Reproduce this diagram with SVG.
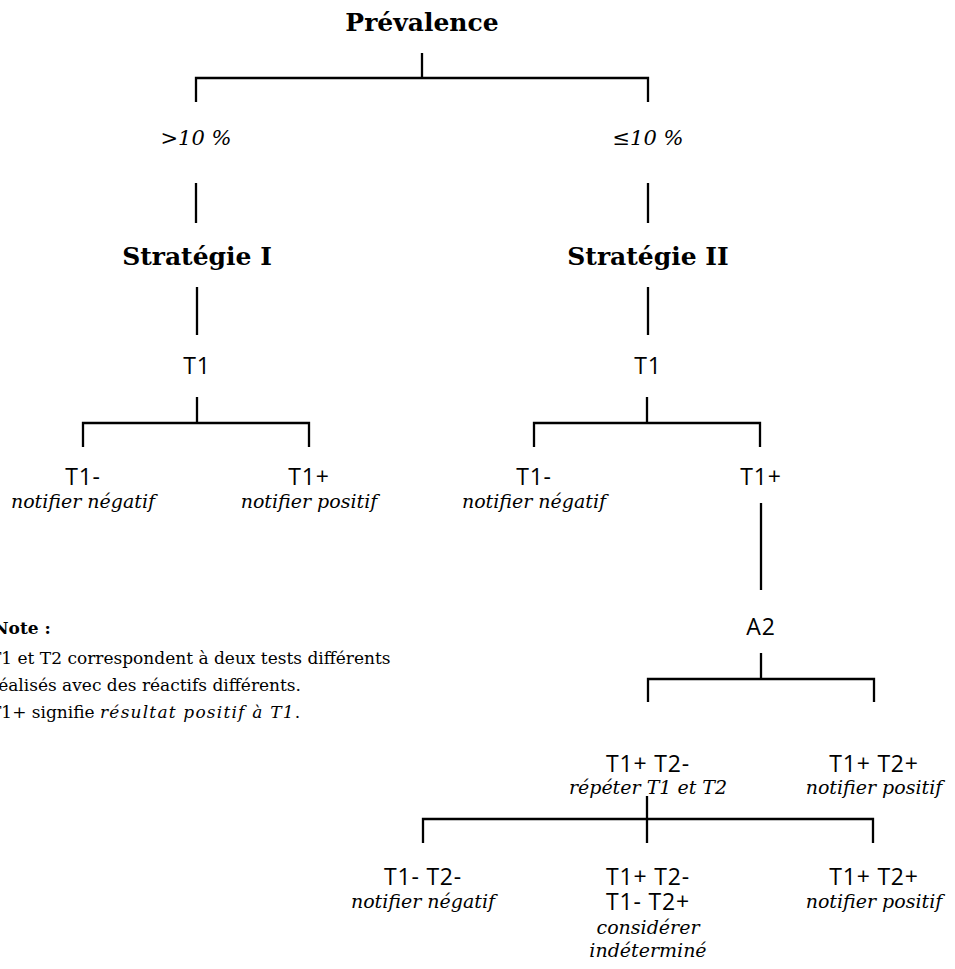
<svg xmlns="http://www.w3.org/2000/svg" width="955" height="969" viewBox="0 0 955 969">
<style>
.c{fill:none;stroke:#000;stroke-width:2.3;stroke-linecap:butt}
.h{font-family:"DejaVu Serif","Liberation Serif",serif;font-weight:bold;font-size:25px;text-anchor:middle;fill:#000}
.s{font-family:"Open Sans","Liberation Sans",sans-serif;font-size:23px;letter-spacing:0.8px;text-anchor:middle;fill:#000}
.i{font-family:"DejaVu Serif","Liberation Serif",serif;font-style:italic;font-size:19px;text-anchor:middle;fill:#000}
.p{font-family:"DejaVu Serif","Liberation Serif",serif;font-style:italic;font-size:21px;text-anchor:middle;fill:#000}
.n{font-family:"DejaVu Serif","Liberation Serif",serif;font-size:17px;fill:#000}
.nb{font-family:"DejaVu Serif","Liberation Serif",serif;font-size:17px;font-weight:bold;fill:#000}
</style>
<rect width="955" height="969" fill="#fff"/>
<g id="connectors">
<path class="c" d="M422,53V78M196,102V78H648V102"/>
<path class="c" d="M196,183V223M648,183V223"/>
<path class="c" d="M197,287V335M648,287V335"/>
<path class="c" d="M197,397V423M83,447V423H309V447"/>
<path class="c" d="M647,397V423M534,447V423H760V447"/>
<path class="c" d="M761,503V590"/>
<path class="c" d="M761,653V679M648,702V679H874V702"/>
<path class="c" d="M647,796V843M423,843V819H873V843"/>
</g>
<g id="n-prevalence"><text class="h" x="422" y="31">Prévalence</text></g>
<g id="n-gt10"><text class="p" x="196" y="145">&gt;10 %</text></g>
<g id="n-le10"><text class="p" x="648" y="145">≤10 %</text></g>
<g id="n-strat1"><text class="h" x="197" y="265">Stratégie I</text></g>
<g id="n-strat2"><text class="h" x="648" y="265">Stratégie II</text></g>
<g id="n-t1a"><text class="s" x="197" y="374">T1</text></g>
<g id="n-t1b"><text class="s" x="648" y="374">T1</text></g>
<g id="n-t1neg-a"><text class="s" x="83" y="485">T1-</text><text class="i" x="83" y="508">notifier négatif</text></g>
<g id="n-t1pos-a"><text class="s" x="309" y="485">T1+</text><text class="i" x="309" y="508">notifier positif</text></g>
<g id="n-t1neg-b"><text class="s" x="534" y="485">T1-</text><text class="i" x="534" y="508">notifier négatif</text></g>
<g id="n-t1pos-b"><text class="s" x="761" y="485">T1+</text></g>
<g id="n-a2"><text class="s" x="761" y="635">A2</text></g>
<g id="n-t1pt2n"><text class="s" x="648" y="772">T1+ T2-</text><text class="i" x="648" y="794">répéter T1 et T2</text></g>
<g id="n-t1pt2p"><text class="s" x="874" y="772">T1+ T2+</text><text class="i" x="874" y="794">notifier positif</text></g>
<g id="n-r-neg"><text class="s" x="423" y="885">T1- T2-</text><text class="i" x="423" y="908">notifier négatif</text></g>
<g id="n-r-ind"><text class="s" x="648" y="885">T1+ T2-</text><text class="s" x="648" y="910">T1- T2+</text><text class="i" x="648" y="934">considérer</text><text class="i" x="648" y="957">indéterminé</text></g>
<g id="n-r-pos"><text class="s" x="874" y="885">T1+ T2+</text><text class="i" x="874" y="908">notifier positif</text></g>
<g id="note">
<text class="nb" x="-7" y="634">Note :</text>
<text class="n" x="-10" y="664">T1 et T2 correspondent à deux tests différents</text>
<text class="n" x="-10" y="691">réalisés avec des réactifs différents.</text>
<text class="n" x="-10" y="718">T1+ signifie <tspan font-style="italic" letter-spacing="1.2">résultat positif à T1</tspan>.</text>
</g>
</svg>
